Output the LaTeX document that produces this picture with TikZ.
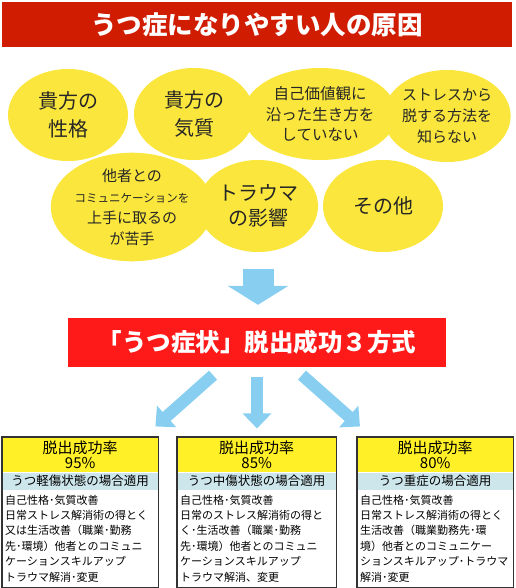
\documentclass[tikz,border=0pt]{standalone}
\usepackage{fontspec}
\setmainfont{Noto Sans CJK JP}
\usetikzlibrary{arrows.meta, positioning, shapes.geometric, fit, calc}
\definecolor{titlered}{RGB}{208,28,0}
\definecolor{methodred}{RGB}{255,26,26}
\definecolor{causeyellow}{RGB}{250,230,60}
\definecolor{rateyellow}{RGB}{255,240,40}
\definecolor{caseblue}{RGB}{205,230,235}
\definecolor{flowblue}{RGB}{135,206,240}
\newcommand{\fsz}[2]{\fontsize{#1}{#2}\selectfont}

\begin{document}
\begin{tikzpicture}[x=1pt, y=-1pt, >=stealth,
  banner/.style={fill=#1, text=white, font=\bfseries, inner sep=0pt},
  cause/.style={ellipse, fill=causeyellow, minimum width=120pt, minimum height=92pt,
    inner sep=0pt, align=center, text=black!85},
  bigarrow/.style={flowblue, line width=31pt, -{Triangle[width=60pt, length=19pt]}},
  smallarrow/.style={flowblue, line width=12pt, -{Triangle[width=28pt, length=15pt]}},
  ratehead/.style={fill=rateyellow, minimum width=#1, minimum height=35pt, inner sep=0pt,
    align=center, font=\fsz{15}{15}},
  caseband/.style={fill=caseblue, minimum width=#1, minimum height=17pt, inner sep=0pt,
    font=\fsz{12.5}{13}},
  casebody/.style={minimum height=97pt, inner xsep=3pt, inner ysep=0pt, text width=#1,
    align=left, font=\fsz{11}{15.4}},
  caseframe/.style={draw=black!80, line width=1.2pt, inner sep=0pt}
]
  \useasboundingbox (0,0) rectangle (515,588);

  % TOP: title
  \node[banner=titlered, minimum width=510pt, minimum height=45pt, font=\bfseries\fsz{25.5}{26}]
    (title) at (257,24.5) {うつ症になりやすい人の原因};

  % CAUSES
  \node[cause, font=\fsz{20}{28}] (nature) at (68,115) {貴方の\\性格};
  \node[cause, font=\fsz{20}{28}] (temper) at (194,114) {貴方の\\気質};
  \node[cause, font=\fsz{15.5}{20.5}] (values) at (320,114) {自己価値観に\\沿った生き方を\\していない};
  \node[cause, font=\fsz{15}{21}] (escape) at (447,116) {ストレスから\\脱する方法を\\知らない};
  \node[cause, font=\fsz{15}{21}] (contact) at (132,207)
    {他者との\\{\fsz{11.5}{21}コミュニケーションを}\\上手に取るの\\が苦手};
  \node[cause, font=\fsz{20}{25}] (trauma) at (258,206) {トラウマ\\の影響};
  \node[cause, font=\fsz{20}{25}] (other) at (383,206) {その他};

  % MIDDLE: method
  \node[banner=methodred, minimum width=378pt, minimum height=49pt, font=\bfseries\fsz{24.5}{25}]
    (method) at (257,342.5) {「うつ症状」脱出成功３方式};
  \draw[bigarrow, shorten <=17pt, shorten >=13pt] (trauma.south) -- (trauma.south |- method.north);

  % BOTTOM LEFT: light case
  \node[ratehead=156pt, anchor=north west] (rate1) at (2,437) {脱出成功率\\95\%};
  \node[caseband=156pt, below=0pt of rate1] (band1) {うつ軽傷状態の場合適用};
  \node[casebody=150pt, below=0pt of band1] (body1)
    {自己性格･気質改善\\日常ストレス解消術の得とく\\又は生活改善（職業･勤務\\先･環境）他者とのコミュニ\\ケーションスキルアップ\\トラウマ解消･変更};
  \node[caseframe, fit=(rate1)(body1)] (case1) {};

  % BOTTOM MIDDLE: medium case
  \node[ratehead=159pt, anchor=north west] (rate2) at (177,437) {脱出成功率\\85\%};
  \node[caseband=159pt, below=0pt of rate2] (band2) {うつ中傷状態の場合適用};
  \node[casebody=153pt, below=0pt of band2] (body2)
    {自己性格･気質改善\\日常のストレス解消術の得と\\く･生活改善（職業･勤務\\先･環境）他者とのコミュニ\\ケーションスキルアップ\\トラウマ解消、変更};
  \node[caseframe, fit=(rate2)(body2)] (case2) {};

  % BOTTOM RIGHT: severe case
  \node[ratehead=156pt, anchor=north west] (rate3) at (357,437) {脱出成功率\\80\%};
  \node[caseband=156pt, below=0pt of rate3] (band3) {うつ重症の場合適用};
  \node[casebody=150pt, below=0pt of band3] (body3)
    {自己性格･気質改善\\日常ストレス解消術の得とく\\生活改善（職業勤務先･環\\境）他者とのコミュニケー\\ションスキルアップ･トラウマ\\解消･変更};
  \node[caseframe, fit=(rate3)(body3)] (case3) {};

  % arrows to the three cases
  \draw[smallarrow, shorten <=12pt, shorten >=15pt] ([xshift=-35pt]method.south) -- ([xshift=64pt]case1.north);
  \draw[smallarrow, shorten <=10pt, shorten >=8pt] (method.south) -- (method.south |- case2.north);
  \draw[smallarrow, shorten <=12pt, shorten >=15pt] ([xshift=36pt]method.south) -- ([xshift=-64pt]case3.north);
\end{tikzpicture}
\end{document}
